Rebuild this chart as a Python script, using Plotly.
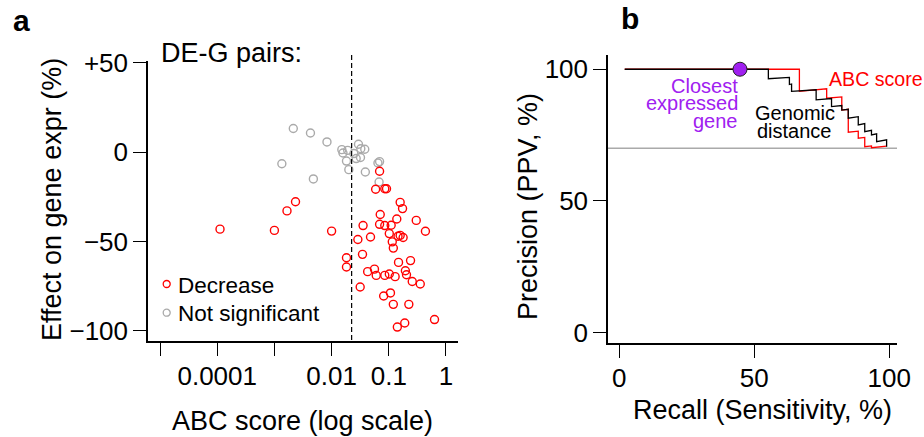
import plotly.graph_objects as go

W, H = 924, 437
FONT = "Liberation Sans, Arial, Helvetica, sans-serif"

# ---------------- Panel a data ----------------
ns_abc = [0.00214, 0.00427, 0.0083, 0.00135, 0.0048, 0.0151, 0.0158, 0.0191, 0.0182, 0.020,
          0.0245, 0.0295, 0.0324, 0.038, 0.0269, 0.032, 0.0389, 0.0646, 0.069, 0.0676]
ns_effect = [13.3, 10.8, 5.8, -6.4, -14.9, 1.5, -0.4, 1.1, -4.9, -9.7,
             -0.7, 4.5, 2.0, 1.7, -3.5, -2.9, -11.0, -6.0, -5.2, -16.6]

dec_abc = [0.069, 0.0589, 0.0851, 0.0912, 0.158, 0.174, 0.00234, 0.00166, 0.000112, 0.001,
           0.01, 0.0708, 0.069, 0.138, 0.302, 0.437, 0.0355, 0.0851, 0.11, 0.102,
           0.0479, 0.0288, 0.145, 0.158, 0.178, 0.115, 0.12, 0.0347, 0.0182, 0.0182,
           0.148, 0.24, 0.0427, 0.0562, 0.0603, 0.0851, 0.102, 0.129, 0.195, 0.204,
           0.257, 0.355, 0.0316, 0.107, 0.0813, 0.12, 0.224, 0.19, 0.141, 0.63]
dec_effect = [-10.6, -20.7, -20.4, -20.4, -28.0, -31.5, -27.7, -32.8, -43.0, -43.7,
              -44.1, -34.8, -40.3, -37.3, -38.1, -44.2, -41.0, -41.0, -40.8, -45.5,
              -47.4, -48.8, -47.0, -46.5, -47.7, -50.1, -53.6, -57.1, -59.0, -64.2,
              -61.6, -60.6, -66.8, -65.4, -68.9, -68.9, -68.1, -69.6, -66.3, -68.5,
              -72.3, -73.7, -75.4, -78.7, -80.4, -85.1, -85.1, -95.5, -97.8, -93.6]

abc_threshold = 0.0224
a_xtick_vals = [1e-5, 1e-4, 1e-3, 1e-2, 1e-1, 1]
a_xtick_text = ["", "0.0001", "", "0.01", "0.1", "1"]
a_ytick_vals = [50, 0, -50, -100]
a_ytick_text = ["+50", "0", "\u221250", "\u2212100"]

# ---------------- Panel b data ----------------
abc_recall = [2, 66.7, 66.7, 76.8, 76.8, 82.4, 82.4, 84.8, 84.8, 88.5, 88.5, 90.9, 90.9, 93.4, 93.4, 99]
abc_precision = [100, 100, 91.6, 92.6, 89.0, 89.5, 84.5, 84.8, 76.1, 76.5, 73.8, 74.1, 70.6, 70.9, 70.2, 70.8]

dist_recall = [2, 55.2, 55.2, 63.0, 63.0, 63.8, 63.8, 72.9, 72.9, 78.6, 78.6, 82.4, 82.4, 84.8, 84.8,
               88.5, 88.5, 90.9, 90.9, 93.4, 93.4, 95.3, 95.3, 99, 99]
dist_precision = [100, 100, 96.4, 96.9, 94.2, 94.4, 91.6, 92.2, 88.4, 88.9, 85.8, 86.2, 84.5, 84.8, 81.4,
                  82.0, 78.9, 79.4, 76.3, 76.8, 75.1, 75.5, 72.5, 73.2, 70.6]

closest_recall = [44.7]
closest_precision = [100]
baseline_precision = 70
b_tick_vals = [0, 50, 100]

RED = "#ff0000"
GRAY = "#aaaaaa"
PURPLE = "#a020f0"


def px(x):
    return x / W


def py(y):
    return 1 - y / H


fig = go.Figure()

fig.add_trace(go.Scatter(x=ns_abc, y=ns_effect, mode="markers", name="Not significant",
                         marker=dict(symbol="circle-open", size=8, color=GRAY, line=dict(width=1.4, color=GRAY)),
                         xaxis="x", yaxis="y", showlegend=False))
fig.add_trace(go.Scatter(x=dec_abc, y=dec_effect, mode="markers", name="Decrease",
                         marker=dict(symbol="circle-open", size=8, color=RED, line=dict(width=1.4, color=RED)),
                         xaxis="x", yaxis="y", showlegend=False))

fig.add_trace(go.Scatter(x=abc_recall, y=abc_precision, mode="lines", name="ABC score",
                         line=dict(color=RED, width=1.3), xaxis="x2", yaxis="y2", showlegend=False))
fig.add_trace(go.Scatter(x=dist_recall, y=dist_precision, mode="lines", name="Genomic distance",
                         line=dict(color="black", width=1.3), xaxis="x2", yaxis="y2", showlegend=False))
fig.add_trace(go.Scatter(x=closest_recall, y=closest_precision, mode="markers", name="Closest expressed gene",
                         marker=dict(size=14, color=PURPLE, line=dict(width=1, color="#222222")),
                         xaxis="x2", yaxis="y2", showlegend=False))

axis_common = dict(showline=True, linecolor="black", linewidth=1.5, ticks="outside", ticklen=13,
                   tickwidth=1.3, tickcolor="black", showgrid=False, zeroline=False, automargin=False,
                   tickfont=dict(family=FONT, size=26, color="black"), fixedrange=True)

fig.update_layout(
    template="none",
    font=dict(family=FONT, color="black"),
    width=W, height=H, autosize=False,
    margin=dict(l=0, r=0, t=0, b=0, pad=0),
    paper_bgcolor="white", plot_bgcolor="white",
    xaxis=dict(axis_common, type="log", range=[-5.21, 0.21], domain=[px(148), px(458)],
               tickmode="array", tickvals=a_xtick_vals, ticktext=a_xtick_text, anchor="y",
               ticklabelstandoff=-2),
    yaxis=dict(axis_common, range=[-105.6, 51.1], domain=[py(341), py(61)],
               tickmode="array", tickvals=a_ytick_vals, ticktext=a_ytick_text, anchor="x"),
    xaxis2=dict(axis_common, range=[-4.19, 102.85], domain=[px(608), px(897)],
                tickmode="array", tickvals=b_tick_vals, anchor="y2", ticklabelstandoff=-2),
    yaxis2=dict(axis_common, range=[-3.9, 105.4], domain=[py(343), py(55)],
                tickmode="array", tickvals=b_tick_vals, anchor="x2"),
    showlegend=False,
)

shapes = [
    dict(type="line", xref="x", yref="paper", x0=abc_threshold, x1=abc_threshold,
         y0=py(340), y1=py(52), line=dict(color="black", width=1.2, dash="5px,3px")),
    dict(type="line", xref="x2 domain", yref="y2", x0=0, x1=1, y0=baseline_precision, y1=baseline_precision,
         line=dict(color=GRAY, width=1.5), layer="below"),
    dict(type="circle", xref="paper", yref="paper", xsizemode="pixel", ysizemode="pixel",
         xanchor=px(166.7), yanchor=py(284), x0=-3.5, x1=3.5, y0=-3.5, y1=3.5,
         line=dict(color=RED, width=1.3)),
    dict(type="circle", xref="paper", yref="paper", xsizemode="pixel", ysizemode="pixel",
         xanchor=px(166.7), yanchor=py(312.7), x0=-3.5, x1=3.5, y0=-3.5, y1=3.5,
         line=dict(color=GRAY, width=1.3)),
]
fig.update_layout(shapes=shapes)


def ann(text, x, y, size, color="black", xanchor="left", yanchor="middle", bold=False, angle=0):
    t = f"<b>{text}</b>" if bold else text
    fig.add_annotation(text=t, x=px(x), y=py(y), xref="paper", yref="paper", showarrow=False,
                       xanchor=xanchor, yanchor=yanchor, textangle=angle,
                       font=dict(family=FONT, size=size, color=color), borderpad=0)


ann("a", 12, 21, 30, bold=True)
ann("b", 620, 19, 30, bold=True)
ann("DE-G pairs:", 160, 53, 27)
ann("Decrease", 177, 285.5, 22.5)
ann("Not significant", 177, 313.5, 22.5)
ann("Effect on gene expr (%)", 52, 200, 27, xanchor="center", angle=-90)
ann("ABC score (log scale)", 302, 421, 27, xanchor="center")
ann("Precision (PPV, %)", 528, 207, 27, xanchor="center", angle=-90)
ann("Recall (Sensitivity, %)", 762, 410, 27, xanchor="center")
ann("Closest", 739, 86, 20, color=PURPLE, xanchor="right")
ann("expressed", 739, 103.3, 20, color=PURPLE, xanchor="right")
ann("gene", 739, 120.6, 20, color=PURPLE, xanchor="right")
ann("Genomic", 754, 113.2, 20)
ann("distance", 755.5, 130.5, 20)
ann("ABC score", 828, 79.2, 19.6, color=RED)

fig.write_html("out.html")
